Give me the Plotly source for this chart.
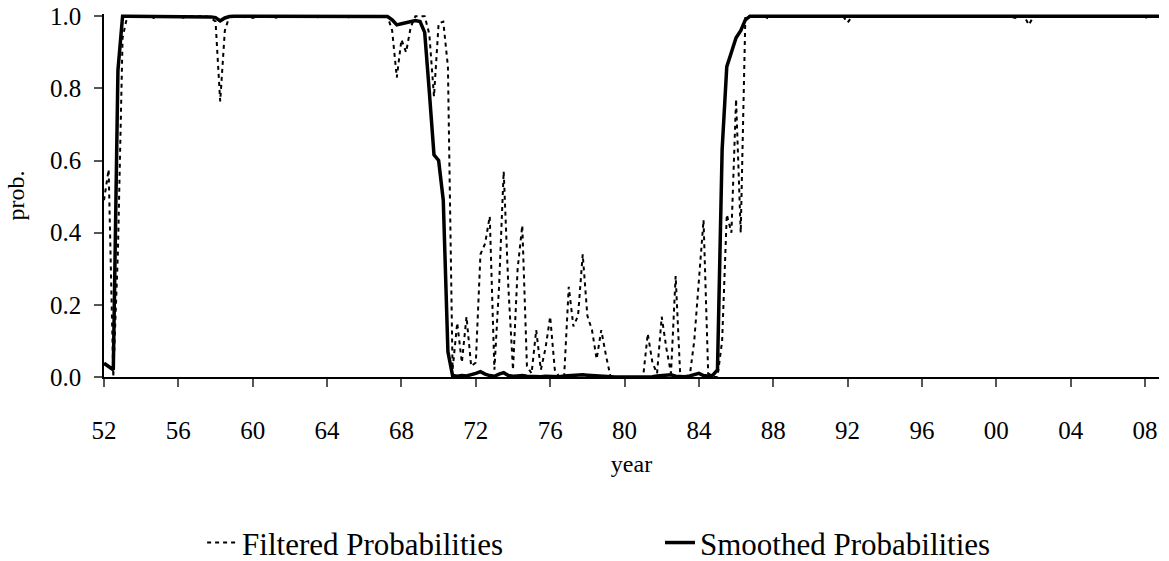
import plotly.graph_objects as go

# Quarterly probabilities, 1952Q1 .. 2008Q4 (4 values per year)
start_year = 1952
smoothed = [
    0.038, 0.030, 0.020, 0.850,   # 1952
    1.0, 1.0, 1.0, 1.0,           # 1953
    1.0, 1.0, 1.0, 1.0,           # 1954
    1.0, 1.0, 1.0, 1.0,           # 1955
    1.0, 1.0, 1.0, 1.0,           # 1956
    1.0, 1.0, 1.0, 0.998,         # 1957
    0.996, 0.987, 0.995, 0.999,   # 1958
    1.0, 1.0, 1.0, 1.0,           # 1959
    1.0, 1.0, 1.0, 1.0,           # 1960
    1.0, 1.0, 1.0, 1.0,           # 1961
    1.0, 1.0, 1.0, 1.0,           # 1962
    1.0, 1.0, 1.0, 1.0,           # 1963
    1.0, 1.0, 1.0, 1.0,           # 1964
    1.0, 1.0, 1.0, 1.0,           # 1965
    1.0, 1.0, 1.0, 1.0,           # 1966
    1.0, 0.999, 0.990, 0.976,     # 1967
    0.979, 0.982, 0.985, 0.988,   # 1968
    0.985, 0.955, 0.790, 0.616,   # 1969
    0.600, 0.490, 0.070, 0.004,   # 1970
    0.002, 0.004, 0.003, 0.006,   # 1971
    0.010, 0.015, 0.008, 0.004,   # 1972
    0.002, 0.008, 0.012, 0.004,   # 1973
    0.002, 0.003, 0.004, 0.002,   # 1974
    0.001, 0.002, 0.001, 0.002,   # 1975
    0.001, 0.000, 0.001, 0.003,   # 1976
    0.004, 0.005, 0.006, 0.006,   # 1977
    0.005, 0.004, 0.003, 0.001,   # 1978
    0.0, 0.0, 0.0, 0.0,           # 1979
    0.0, 0.0, 0.0, 0.0,           # 1980
    0.001, 0.002, 0.001, 0.003,   # 1981
    0.004, 0.003, 0.006, 0.002,   # 1982
    0.001, 0.001, 0.003, 0.006,   # 1983
    0.010, 0.004, 0.003, 0.005,   # 1984
    0.020, 0.630, 0.860, 0.900,   # 1985
    0.940, 0.960, 0.990, 1.0,     # 1986
    1.0, 1.0, 1.0, 1.0,           # 1987
    1.0, 1.0, 1.0, 1.0,           # 1988
    1.0, 1.0, 1.0, 1.0,           # 1989
    1.0, 1.0, 1.0, 1.0,           # 1990
    1.0, 1.0, 1.0, 1.0,           # 1991
    1.0, 1.0, 1.0, 1.0,           # 1992
    1.0, 1.0, 1.0, 1.0,           # 1993
    1.0, 1.0, 1.0, 1.0,           # 1994
    1.0, 1.0, 1.0, 1.0,           # 1995
    1.0, 1.0, 1.0, 1.0,           # 1996
    1.0, 1.0, 1.0, 1.0,           # 1997
    1.0, 1.0, 1.0, 1.0,           # 1998
    1.0, 1.0, 1.0, 1.0,           # 1999
    1.0, 1.0, 1.0, 1.0,           # 2000
    1.0, 1.0, 1.0, 1.0,           # 2001
    1.0, 1.0, 1.0, 1.0,           # 2002
    1.0, 1.0, 1.0, 1.0,           # 2003
    1.0, 1.0, 1.0, 1.0,           # 2004
    1.0, 1.0, 1.0, 1.0,           # 2005
    1.0, 1.0, 1.0, 1.0,           # 2006
    1.0, 1.0, 1.0, 1.0,           # 2007
    1.0, 1.0, 1.0, 1.0,           # 2008
]

filtered = [
    0.490, 0.575, 0.000, 0.350,   # 1952
    0.940, 1.0, 1.0, 1.0,         # 1953
    1.0, 1.0, 1.0, 0.993,         # 1954
    1.0, 1.0, 1.0, 1.0,           # 1955
    1.0, 0.996, 1.0, 1.0,         # 1956
    1.0, 1.0, 1.0, 0.995,         # 1957
    0.985, 0.764, 0.960, 1.0,     # 1958
    1.0, 1.0, 0.997, 1.0,         # 1959
    0.995, 1.0, 1.0, 1.0,         # 1960
    1.0, 0.996, 1.0, 1.0,         # 1961
    1.0, 1.0, 1.0, 1.0,           # 1962
    1.0, 1.0, 0.997, 1.0,         # 1963
    1.0, 1.0, 0.995, 1.0,         # 1964
    1.0, 0.995, 1.0, 1.0,         # 1965
    1.0, 1.0, 1.0, 0.998,         # 1966
    1.0, 1.0, 0.960, 0.830,       # 1967
    0.935, 0.900, 0.970, 1.0,     # 1968
    1.0, 1.0, 0.950, 0.777,       # 1969
    0.980, 0.985, 0.860, 0.020,   # 1970
    0.150, 0.040, 0.167, 0.030,   # 1971
    0.040, 0.340, 0.370, 0.445,   # 1972
    0.020, 0.250, 0.570, 0.250,   # 1973
    0.020, 0.300, 0.420, 0.030,   # 1974
    0.010, 0.130, 0.020, 0.080,   # 1975
    0.167, 0.020, 0.000, 0.000,   # 1976
    0.250, 0.140, 0.170, 0.340,   # 1977
    0.170, 0.130, 0.050, 0.130,   # 1978
    0.060, 0.000, 0.000, 0.000,   # 1979
    0.0, 0.0, 0.0, 0.0,           # 1980
    0.000, 0.120, 0.040, 0.010,   # 1981
    0.167, 0.080, 0.010, 0.280,   # 1982
    0.000, 0.000, 0.000, 0.100,   # 1983
    0.280, 0.435, 0.010, 0.000,   # 1984
    0.000, 0.100, 0.450, 0.400,   # 1985
    0.770, 0.400, 1.0, 1.0,       # 1986
    1.0, 1.0, 1.0, 0.993,         # 1987
    1.0, 1.0, 1.0, 1.0,           # 1988
    1.0, 1.0, 1.0, 1.0,           # 1989
    1.0, 1.0, 1.0, 1.0,           # 1990
    1.0, 1.0, 1.0, 1.0,           # 1991
    0.982, 1.0, 1.0, 1.0,         # 1992
    1.0, 1.0, 1.0, 1.0,           # 1993
    1.0, 1.0, 1.0, 1.0,           # 1994
    1.0, 1.0, 1.0, 1.0,           # 1995
    1.0, 1.0, 1.0, 1.0,           # 1996
    1.0, 1.0, 1.0, 1.0,           # 1997
    1.0, 1.0, 1.0, 1.0,           # 1998
    1.0, 1.0, 1.0, 1.0,           # 1999
    1.0, 1.0, 1.0, 1.0,           # 2000
    0.995, 1.0, 1.0, 0.976,       # 2001
    1.0, 1.0, 1.0, 1.0,           # 2002
    1.0, 1.0, 1.0, 1.0,           # 2003
    1.0, 1.0, 1.0, 1.0,           # 2004
    1.0, 1.0, 1.0, 1.0,           # 2005
    1.0, 1.0, 1.0, 1.0,           # 2006
    1.0, 1.0, 1.0, 1.0,           # 2007
    0.995, 1.0, 1.0, 1.0,         # 2008
]

tick_years = [1952, 1956, 1960, 1964, 1968, 1972, 1976, 1980,
              1984, 1988, 1992, 1996, 2000, 2004, 2008]
tick_labels = ["52", "56", "60", "64", "68", "72", "76", "80",
               "84", "88", "92", "96", "00", "04", "08"]
y_ticks = [0.0, 0.2, 0.4, 0.6, 0.8, 1.0]

quarter_x = [start_year + i / 4 for i in range(len(smoothed))]

serif = "Liberation Serif, Times New Roman, serif"
legend_font = dict(family=serif, size=31, color="black")

fig = go.Figure()
fig.add_trace(go.Scatter(
    x=quarter_x, y=filtered, mode="lines", name="Filtered Probabilities",
    line=dict(color="black", width=2, dash="4px,4px"), legend="legend",
))
fig.add_trace(go.Scatter(
    x=quarter_x, y=smoothed, mode="lines", name="Smoothed Probabilities",
    line=dict(color="black", width=3.5), legend="legend2",
))

fig.update_layout(
    width=1169, height=561,
    paper_bgcolor="white", plot_bgcolor="white",
    margin=dict(l=104, r=10, t=14, b=184, autoexpand=False),
    font=dict(family=serif, size=24, color="black"),
    showlegend=True,
    legend=dict(
        orientation="h", x=0.093, xanchor="left", y=-0.457, yanchor="middle",
        font=legend_font, bgcolor="rgba(0,0,0,0)",
    ),
    legend2=dict(
        orientation="h", x=0.527, xanchor="left", y=-0.457, yanchor="middle",
        font=legend_font, bgcolor="rgba(0,0,0,0)",
    ),
)
fig.update_xaxes(
    range=[1952, 2008.75], tickmode="array", tickvals=tick_years, ticktext=tick_labels,
    showgrid=False, zeroline=False, showline=True, linecolor="black", linewidth=1.5,
    ticks="outside", ticklen=8, tickcolor="#555", tickwidth=1.5,
    ticklabelstandoff=22, automargin=False, ticklabeloverflow="allow",
    tickfont=dict(family=serif, size=25),
    title=dict(text="year", font=dict(family=serif, size=24), standoff=12),
)
fig.update_yaxes(
    range=[0, 1.006], tickmode="array", tickvals=y_ticks, tickformat=".1f",
    showgrid=False, zeroline=False, showline=True, linecolor="black", linewidth=1.5,
    ticks="outside", ticklen=8, tickcolor="#555", tickwidth=1.5,
    ticklabelstandoff=8, automargin=False, ticklabeloverflow="allow",
    tickfont=dict(family=serif, size=25),
    title=dict(text="prob.", font=dict(family=serif, size=24), standoff=19),
)

# remove the default 8px page margin so the figure fills the window exactly
fig.write_html(
    "out.html",
    config={"displayModeBar": False, "responsive": False},
    post_script="document.body.style.margin='0';",
)
